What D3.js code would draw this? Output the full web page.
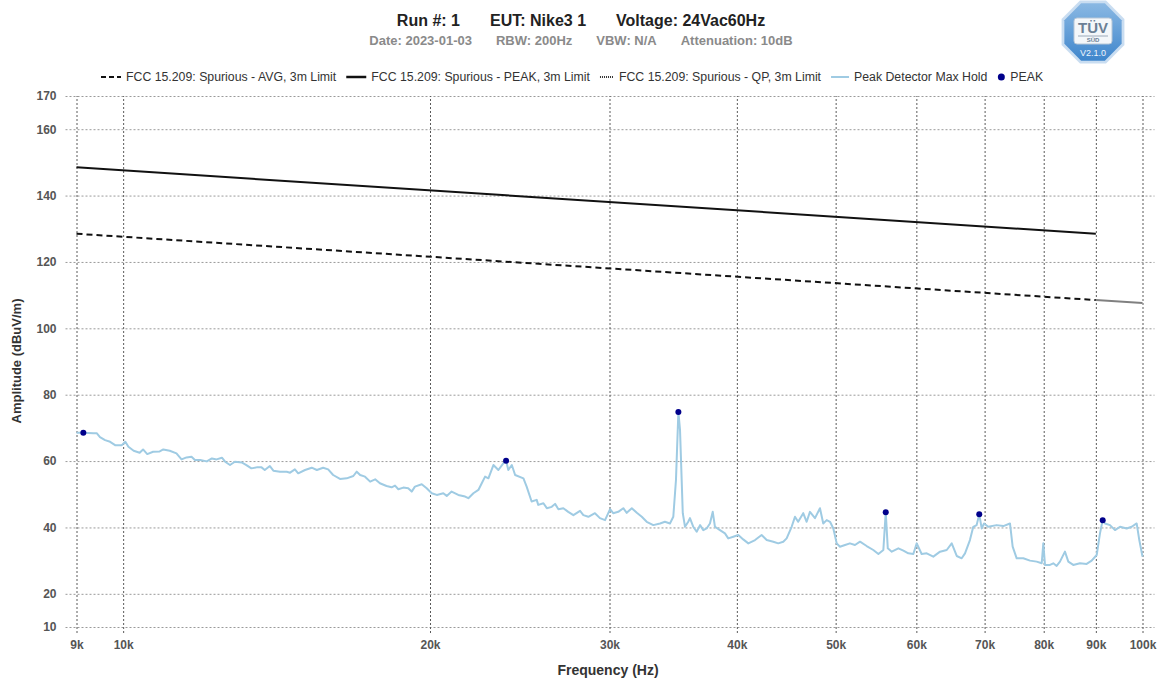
<!DOCTYPE html>
<html>
<head>
<meta charset="utf-8">
<script src="https://cdn.jsdelivr.net/npm/d3@7"></script>
<style>
  body { margin: 0; background: #fff; }
  svg { font-family: "Liberation Sans", Arial, sans-serif; }
</style>
</head>
<body>
<div id="chart"></div>
<script>
// ---- data (frequency in kHz, amplitude in dBuV/m) ----
const titleParts = ['Run #: 1', 'EUT: Nike3 1', 'Voltage: 24Vac60Hz'];
const subtitleParts = ['Date: 2023-01-03', 'RBW: 200Hz', 'VBW: N/A', 'Attenuation: 10dB'];
const legendLabels = [
  'FCC 15.209: Spurious - AVG, 3m Limit',
  'FCC 15.209: Spurious - PEAK, 3m Limit',
  'FCC 15.209: Spurious - QP, 3m Limit',
  'Peak Detector Max Hold',
  'PEAK'
];

const freqTicks = [9, 10, 20, 30, 40, 50, 60, 70, 80, 90, 100];
const ampTicks = [10, 20, 40, 60, 80, 100, 120, 140, 160, 170];

const avgLimitFreq = [9, 90];
const avgLimitAmp = [128.5, 108.5];
const peakLimitFreq = [9, 90];
const peakLimitAmp = [148.5, 128.5];
const qpLimitFreq = [90, 100];
const qpLimitAmp = [108.5, 107.6];

const traceFreq = [
  9.00, 9.14, 9.35, 9.42, 9.49, 9.60, 9.71, 9.82, 9.97, 10.05,
  10.12, 10.24, 10.38, 10.46, 10.56, 10.70, 10.86, 10.95, 11.11, 11.28,
  11.41, 11.54, 11.67, 11.76, 11.90, 12.08, 12.22, 12.35, 12.50, 12.59,
  12.73, 12.87, 13.07, 13.21, 13.36, 13.52, 13.67, 13.77, 13.93, 14.04,
  14.25, 14.47, 14.58, 14.74, 14.85, 15.08, 15.31, 15.49, 15.71, 15.89,
  16.07, 16.32, 16.57, 16.82, 16.95, 17.08, 17.27, 17.47, 17.67, 17.86,
  18.13, 18.34, 18.48, 18.62, 18.83, 19.04, 19.19, 19.33, 19.63, 19.85,
  20.08, 20.31, 20.61, 20.77, 21.00, 21.32, 21.65, 21.81, 22.06, 22.31,
  22.48, 22.65, 22.82, 23.08, 23.34, 23.60, 23.75, 23.87, 24.06, 24.24,
  24.70, 24.88, 25.16, 25.45, 25.54, 25.84, 26.04, 26.33, 26.53, 26.73,
  27.03, 27.33, 27.65, 28.07, 28.28, 28.60, 29.03, 29.36, 29.70, 30.04,
  30.25, 30.60, 30.95, 31.19, 31.55, 31.91, 32.27, 32.63, 33.12, 33.63,
  34.00, 34.39, 34.65, 34.86, 35.05, 35.18, 35.40, 35.58, 35.84, 35.98,
  36.25, 36.53, 36.81, 37.08, 37.36, 37.64, 37.88, 38.07, 38.50, 38.94,
  39.23, 39.68, 40.13, 40.58, 41.05, 41.68, 42.30, 42.79, 43.43, 43.92,
  44.42, 44.76, 45.27, 45.61, 45.94, 46.47, 46.83, 47.18, 47.72, 48.26,
  48.62, 49.00, 49.37, 49.74, 50.12, 50.49, 51.07, 51.64, 52.23, 52.83,
  53.63, 54.44, 55.07, 55.69, 55.99, 56.25, 56.76, 57.61, 58.27, 58.92,
  59.59, 60.05, 60.72, 61.42, 62.34, 63.30, 64.26, 64.99, 65.73, 66.47,
  66.97, 67.72, 68.23, 68.75, 69.16, 69.54, 69.91, 70.58, 71.93, 73.02,
  74.13, 74.58, 75.26, 76.39, 77.56, 78.74, 79.64, 79.93, 80.23, 81.14,
  81.75, 82.37, 82.99, 83.93, 84.57, 85.52, 86.83, 88.15, 89.15, 90.17,
  90.84, 91.40, 91.88, 92.92, 93.98, 95.05, 96.49, 97.59, 98.69, 99.28,
  100.0
];
const traceAmp = [
  68.5, 68.5, 68.4, 68.4, 67.2, 66.3, 65.8, 64.8, 64.8, 65.8,
  64.3, 63.1, 62.5, 63.5, 62.1, 62.8, 62.9, 63.5, 63.1, 62.3,
  60.5, 61.1, 61.3, 60.3, 60.3, 59.9, 60.8, 60.5, 61.0, 59.8,
  58.8, 59.8, 59.6, 58.8, 57.8, 58.1, 58.1, 57.3, 58.5, 57.1,
  56.8, 56.8, 56.5, 57.5, 56.3, 57.3, 58.0, 57.3, 58.0, 57.5,
  55.8, 54.6, 54.8, 55.5, 56.8, 55.8, 55.3, 53.8, 54.5, 53.3,
  52.5, 52.1, 52.6, 51.5, 52.0, 51.8, 50.8, 52.3, 53.0, 51.8,
  50.3, 49.8, 50.3, 49.5, 50.8, 49.8, 49.3, 48.8, 50.3, 51.3,
  53.3, 55.3, 54.8, 58.8, 57.3, 59.3, 60.1, 57.3, 58.8, 55.8,
  54.8, 52.3, 47.8, 48.3, 46.8, 47.3, 45.8, 46.2, 47.1, 45.5,
  45.8, 44.7, 43.7, 45.0, 43.7, 43.2, 44.3, 42.8, 42.2, 45.5,
  44.3, 44.7, 45.8, 44.4, 45.8, 44.4, 43.2, 41.7, 40.7, 41.2,
  41.7, 41.2, 43.2, 54.3, 74.8, 69.4, 44.3, 40.2, 41.7, 42.8,
  40.2, 38.7, 40.7, 39.2, 39.7, 41.2, 44.7, 40.2, 39.2, 38.2,
  36.7, 37.2, 37.7, 36.4, 35.2, 36.2, 37.7, 36.2, 35.7, 35.2,
  35.7, 36.7, 40.2, 43.2, 41.7, 44.3, 41.7, 44.7, 42.8, 45.8,
  41.2, 42.2, 41.7, 39.7, 35.2, 34.2, 34.7, 35.2, 34.7, 35.7,
  34.4, 33.2, 32.0, 33.2, 44.6, 33.7, 32.7, 33.7, 33.0, 32.2,
  32.0, 35.2, 32.0, 32.2, 31.2, 32.7, 33.2, 35.2, 31.4, 30.7,
  32.2, 36.2, 40.2, 40.7, 44.0, 39.7, 41.2, 40.2, 40.7, 40.4,
  41.2, 34.2, 30.7, 30.7, 30.0, 29.7, 29.2, 35.2, 28.7, 28.7,
  29.2, 28.4, 29.7, 32.7, 29.7, 28.7, 29.2, 29.0, 30.0, 31.7,
  38.2, 42.2, 41.2, 40.7, 39.2, 40.2, 39.7, 40.2, 41.2, 36.2,
  31.2
];

const peakFreq = [9.14, 23.75, 35.05, 55.99, 69.16, 91.40];
const peakAmp = [68.5, 60.1, 74.8, 44.6, 44.0, 42.2];

// ---- layout ----
const outerWidth = 1163;
const outerHeight = 683;
const margin = {top: 96, left: 76.5, right: 20.5, bottom: 56};
const width = outerWidth - margin.left - margin.right;
const height = outerHeight - margin.top - margin.bottom;

const traceColor = '#9fcbe3';
const dotColor = '#00008b';

const root = d3.select('#chart')
  .append('svg')
  .attr('width', outerWidth)
  .attr('height', outerHeight);

const svg = root.append('g')
  .attr('transform', `translate(${margin.left},${margin.top})`);

const xScale = d3.scaleLog().domain([9, 100]).range([0, width]);
const yScale = d3.scaleLinear().domain([10, 170]).range([height, 0]);

// grid + ticks (dotted like the original)
const xAxis = d3.axisBottom(xScale)
  .tickValues(freqTicks)
  .tickFormat(d => d + 'k')
  .tickSize(-(height + 6))
  .tickSizeOuter(0)
  .tickPadding(7);

const yAxis = d3.axisLeft(yScale)
  .tickValues(ampTicks)
  .tickFormat(d3.format('d'))
  .tickSize(-(width + 23))
  .tickSizeOuter(0)
  .tickPadding(9);

const gy = svg.append('g')
  .attr('transform', 'translate(-11,0)')
  .call(yAxis);
gy.select('.domain').remove();
gy.selectAll('line')
  .attr('stroke', '#9a9a9a')
  .attr('stroke-dasharray', '2,2');

const gx = svg.append('g')
  .attr('transform', `translate(0,${height + 6})`)
  .call(xAxis);
gx.select('.domain').remove();
gx.selectAll('line')
  .attr('stroke', '#5a5a5a')
  .attr('stroke-dasharray', '2,2');

[gx, gy].forEach(g => g.selectAll('text')
  .attr('fill', '#555')
  .attr('font-size', 12)
  .attr('font-weight', 'bold')
  .attr('font-family', '"Liberation Sans", Arial, sans-serif'));

// axis titles
root.append('text')
  .attr('x', 608)
  .attr('y', 675)
  .attr('text-anchor', 'middle')
  .attr('font-size', 14)
  .attr('font-weight', 'bold')
  .attr('fill', '#333')
  .text('Frequency (Hz)');

root.append('text')
  .attr('transform', 'translate(21,361) rotate(-90)')
  .attr('text-anchor', 'middle')
  .attr('font-size', 13)
  .attr('font-weight', 'bold')
  .attr('fill', '#333')
  .text('Amplitude (dBuV/m)');

// limit lines
const line = d3.line()
  .x(d => xScale(d[0]))
  .y(d => yScale(d[1]));

svg.append('path')
  .datum(d3.zip(peakLimitFreq, peakLimitAmp))
  .attr('fill', 'none')
  .attr('stroke', '#111')
  .attr('stroke-width', 2)
  .attr('d', line);

svg.append('path')
  .datum(d3.zip(avgLimitFreq, avgLimitAmp))
  .attr('fill', 'none')
  .attr('stroke', '#111')
  .attr('stroke-width', 2)
  .attr('stroke-dasharray', '6,4')
  .attr('d', line);

svg.append('path')
  .datum(d3.zip(qpLimitFreq, qpLimitAmp))
  .attr('fill', 'none')
  .attr('stroke', '#808080')
  .attr('stroke-width', 2)
  .attr('d', line);

// peak detector trace
svg.append('path')
  .datum(d3.zip(traceFreq, traceAmp))
  .attr('fill', 'none')
  .attr('stroke', traceColor)
  .attr('stroke-width', 2)
  .attr('stroke-linejoin', 'round')
  .attr('d', line);

// PEAK markers
svg.selectAll('circle.peak')
  .data(d3.zip(peakFreq, peakAmp))
  .enter()
  .append('circle')
  .attr('class', 'peak')
  .attr('cx', d => xScale(d[0]))
  .attr('cy', d => yScale(d[1]))
  .attr('r', 3)
  .attr('fill', dotColor);

// title
const title = root.append('text')
  .attr('x', 581)
  .attr('y', 26)
  .attr('text-anchor', 'middle')
  .attr('font-size', 16)
  .attr('font-weight', 'bold')
  .attr('fill', '#222');
title.selectAll('tspan')
  .data(titleParts)
  .enter()
  .append('tspan')
  .attr('dx', (d, i) => i ? 30 : 0)
  .text(d => d);

const subtitle = root.append('text')
  .attr('x', 581)
  .attr('y', 45)
  .attr('text-anchor', 'middle')
  .attr('font-size', 13)
  .attr('font-weight', 'bold')
  .attr('fill', '#8a8a8a');
subtitle.selectAll('tspan')
  .data(subtitleParts)
  .enter()
  .append('tspan')
  .attr('dx', (d, i) => i ? 24 : 0)
  .text(d => d);

// legend
const legendStyles = [
  {w: 20, stroke: '#111', dash: '5,3', width: 2},
  {w: 20, stroke: '#111', dash: null, width: 2.5},
  {w: 14, stroke: '#333', dash: '1,1', width: 2},
  {w: 18, stroke: traceColor, dash: null, width: 2},
  {w: 8, dot: true}
];
const legend = root.append('g').attr('transform', 'translate(0,77)');
let lx = 101;
legendLabels.forEach((label, i) => {
  const st = legendStyles[i];
  if (st.dot) {
    legend.append('circle').attr('cx', lx + 4).attr('cy', 0).attr('r', 3.5).attr('fill', dotColor);
  } else {
    legend.append('line')
      .attr('x1', lx).attr('x2', lx + st.w)
      .attr('y1', 0).attr('y2', 0)
      .attr('stroke', st.stroke)
      .attr('stroke-width', st.width)
      .attr('stroke-dasharray', st.dash);
  }
  const t = legend.append('text')
    .attr('x', lx + st.w + 5)
    .attr('y', 4)
    .attr('font-size', 12.3)
    .attr('fill', '#333')
    .text(label);
  lx += st.w + 5 + t.node().getComputedTextLength() + 10;
});

// TUV SUD badge (top right)
const badge = root.append('g').attr('transform', 'translate(1093,32)');
const grad = root.append('defs').append('linearGradient')
  .attr('id', 'badgeGrad').attr('x1', 0).attr('y1', 0).attr('x2', 0).attr('y2', 1);
grad.append('stop').attr('offset', '0%').attr('stop-color', '#8ab8e3');
grad.append('stop').attr('offset', '100%').attr('stop-color', '#3f86cc');
const octagon = (r) => d3.range(8).map(k => {
  const a = Math.PI / 8 + k * Math.PI / 4;
  return [r * Math.cos(a), r * Math.sin(a)];
});
badge.append('path')
  .attr('d', d3.line()(octagon(34)) + 'Z')
  .attr('fill', '#c9ddf1');
badge.append('path')
  .attr('d', d3.line()(octagon(31)) + 'Z')
  .attr('fill', 'url(#badgeGrad)');
badge.append('rect')
  .attr('x', -19).attr('y', -14).attr('width', 38).attr('height', 26)
  .attr('rx', 3)
  .attr('fill', '#f4f7fa')
  .attr('stroke', '#b7c6d6');
badge.append('text')
  .attr('x', 0).attr('y', 1)
  .attr('text-anchor', 'middle')
  .attr('font-size', 15)
  .attr('font-weight', 'bold')
  .attr('fill', '#6b7f95')
  .text('TÜV');
badge.append('line')
  .attr('x1', -15).attr('x2', 15).attr('y1', 4).attr('y2', 4)
  .attr('stroke', '#8898aa').attr('stroke-width', 0.8);
badge.append('text')
  .attr('x', 0).attr('y', 10)
  .attr('text-anchor', 'middle')
  .attr('font-size', 6)
  .attr('font-weight', 'bold')
  .attr('fill', '#6b7f95')
  .text('SÜD');
badge.append('text')
  .attr('x', 0).attr('y', 24)
  .attr('text-anchor', 'middle')
  .attr('font-size', 9)
  .attr('fill', '#eef5fc')
  .text('V2.1.0');
</script>
</body>
</html>
